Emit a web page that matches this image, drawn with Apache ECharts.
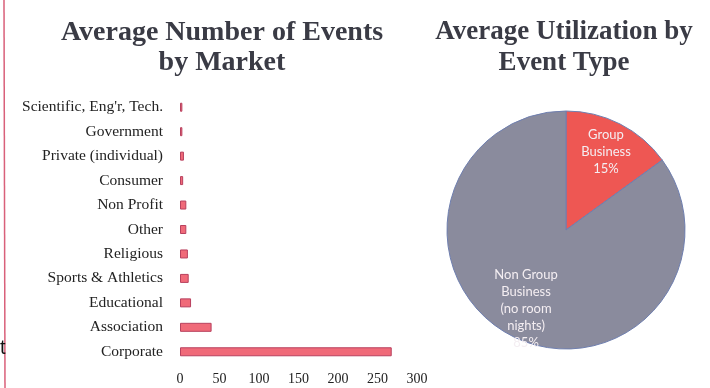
<!DOCTYPE html>
<html>
<head>
<meta charset="utf-8">
<script src="https://cdn.jsdelivr.net/npm/echarts@6/dist/echarts.min.js"></script>
<style>html,body{margin:0;padding:0;background:#fff;}#c{width:710px;height:388px;}</style>
</head>
<body>
<div id="c"></div>
<script>
const markets = ["Scientific, Eng'r, Tech.", "Government", "Private (individual)", "Consumer", "Non Profit", "Other", "Religious", "Sports & Athletics", "Educational", "Association", "Corporate"];
const avgEvents = [3, 3, 5, 4, 8, 8, 10, 11, 14, 40, 268];
const xTicks = [0, 50, 100, 150, 200, 250, 300];
const eventTypes = ["Group\nBusiness", "Non Group\nBusiness\n(no room\nnights)"];
const utilization = [15, 85];

const chart = echarts.init(document.getElementById('c'));
const serif = '"Liberation Serif", "Times New Roman", serif';
chart.setOption({
  backgroundColor: '#ffffff',
  animation: false,
  title: [
    { text: 'Average Number of Events\nby Market', left: 217, top: 13, textAlign: 'center',
      textStyle: { fontFamily: serif, fontWeight: 'bold', fontSize: 28, color: '#3a3b45', lineHeight: 30 } },
    { text: 'Average Utilization by\nEvent Type', left: 559, top: 12, textAlign: 'center',
      textStyle: { fontFamily: serif, fontWeight: 'bold', fontSize: 27, color: '#3a3b45', lineHeight: 31 } }
  ],
  grid: { left: 180, right: 293, top: 95, bottom: 24, containLabel: false },
  xAxis: {
    type: 'value', min: 0, max: 300, interval: 50,
    axisLine: { show: false }, axisTick: { show: false }, splitLine: { show: false },
    axisLabel: { fontFamily: serif, fontSize: 14, color: '#222', margin: 8,
      formatter: v => xTicks.includes(v) ? String(v) : '' }
  },
  yAxis: {
    type: 'category', data: markets, inverse: true,
    axisLine: { show: false }, axisTick: { show: false },
    axisLabel: { fontFamily: serif, fontSize: 15.5, color: '#222', margin: 17 }
  },
  series: [
    { type: 'bar', data: avgEvents, barWidth: 9,
      itemStyle: { color: '#f06a79', borderColor: '#b8415e', borderWidth: 1 } },
    { type: 'pie', center: [566, 230], radius: [0, 119], startAngle: 90, clockwise: true,
      data: utilization.map((v, i) => ({ name: eventTypes[i], value: v })),
      color: ['#ee5753', '#8a8b9d'],
      itemStyle: { borderColor: '#6f7fb0', borderWidth: 1 },
      label: { show: false }, labelLine: { show: false }, silent: true },
    { type: 'pie', center: [566, 230], radius: [0, 170], startAngle: 90, clockwise: true,
      data: utilization.map((v, i) => ({ name: eventTypes[i], value: v })),
      itemStyle: { color: 'rgba(0,0,0,0)' },
      label: { show: true, position: 'inside', fontFamily: 'Lato, "Open Sans", sans-serif', fontSize: 13,
        color: '#f4eef2', lineHeight: 17, formatter: p => p.name + '\n' + p.value + '%' },
      labelLine: { show: false }, silent: true }
  ],
  graphic: [
    { type: 'line', shape: { x1: 4, y1: 0, x2: 5, y2: 388 }, style: { stroke: '#d9607a', lineWidth: 1.5 } },
    { type: 'text', left: 0, top: 338, style: { text: 't', font: '20px "Liberation Sans", sans-serif', fill: '#111' } }
  ]
});
</script>
</body>
</html>
